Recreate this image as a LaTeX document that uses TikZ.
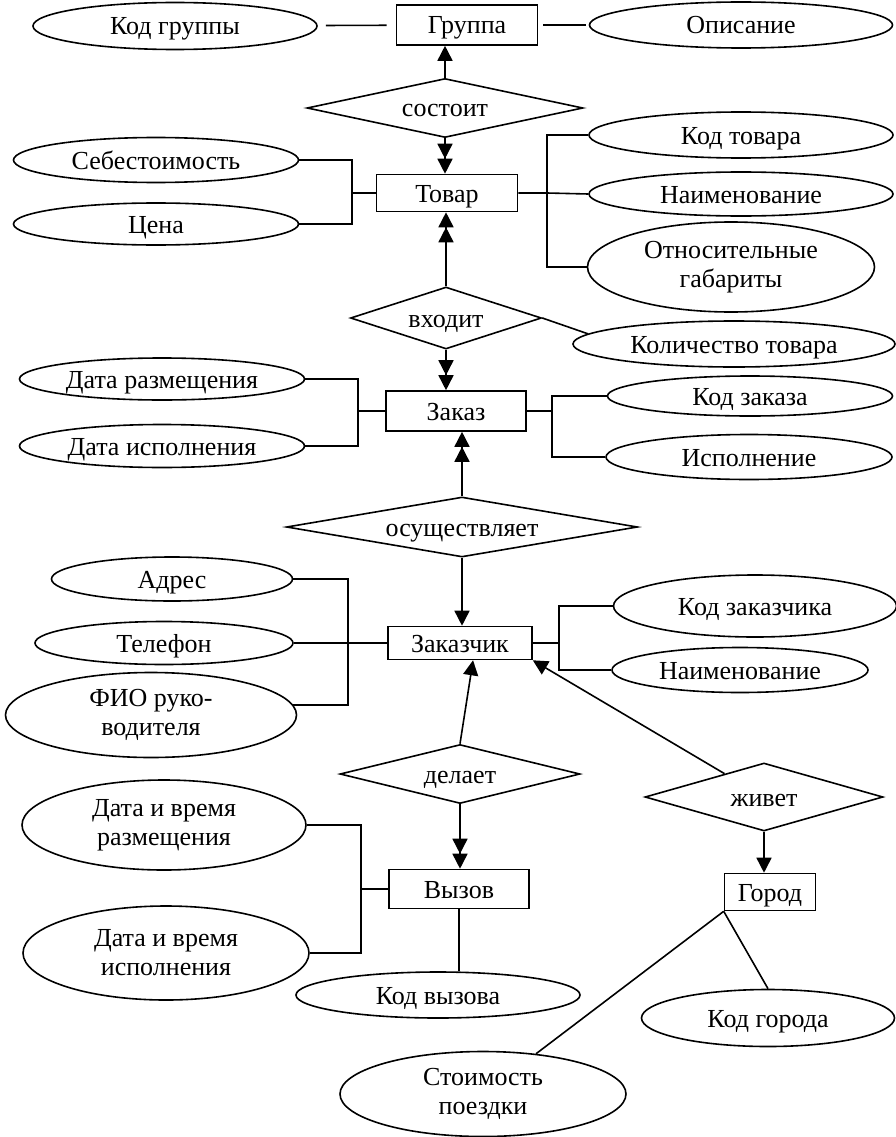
\documentclass[tikz,border=0pt]{standalone}
\usepackage{fontspec}
\setmainfont{Liberation Serif}
\usetikzlibrary{shapes.geometric,arrows.meta}
\begin{document}
\begin{tikzpicture}[x=1pt,y=-1pt,line width=1.6pt,
	every node/.style={font=\fontsize{26}{29}\selectfont,inner sep=0pt,align=center},
	wh/.style 2 args={minimum width=#1pt,minimum height=#2pt},
	sl/.style={text height=20pt,text depth=2pt},
	ent/.style={draw,rectangle,sl},
	attr/.style={draw,ellipse,sl},
	attrii/.style={draw,ellipse},
	rel/.style={draw,diamond,aspect=5,sl},
	one/.style={-{Triangle[length=15pt,width=15pt]}},
	two/.style={-{Triangle[length=15pt,width=15pt]Triangle[length=15pt,width=15pt]}}]
	\useasboundingbox (0,0) rectangle (896,1137);
	% Gruppe und Ware
	\node[ent,wh={141}{40}] (gruppa) at (467,25) {Группа};
	\node[attr,wh={284}{47}] (kodgr) at (175,26) {Код группы};
	\node[attr,wh={303}{46}] (opis) at (741,25) {Описание};
	\node[rel,wh={276}{59}] (sostoit) at (445,108) {состоит};
	\node[ent,wh={141}{37}] (tovar) at (447,193) {Товар};
	\node[attr,wh={285}{45}] (sebest) at (156,160) {Себестоимость};
	\node[attr,wh={285}{42}] (cena) at (156,224) {Цена};
	\node[attr,wh={304}{46}] (kodtov) at (741,135) {Код товара};
	\node[attr,wh={304}{44}] (naimtov) at (741,194) {Наименование};
	\node[attrii,wh={287}{90}] (gabar) at (731,267) {Относительные\\габариты};
	\node[rel,wh={191}{62}] (vhodit) at (446,318) {входит};
	\node[attr,wh={322}{46}] (kolvo) at (734,344) {Количество товара};
	% Auftrag
	\node[ent,wh={140}{40}] (zakaz) at (456,411) {Заказ};
	\node[attr,wh={285}{42}] (datarazm) at (162,379) {Дата размещения};
	\node[attr,wh={285}{43}] (dataisp) at (162,446) {Дата исполнения};
	\node[attr,wh={285}{40}] (kodzak) at (750,396) {Код заказа};
	\node[attr,wh={286}{45}] (ispoln) at (749,457) {Исполнение};
	\node[rel,wh={351}{60}] (osush) at (462,527) {осуществляет};
	% Kunde
	\node[ent,wh={144}{33}] (zakazchik) at (460,643) {Заказчик};
	\node[attr,wh={241}{44}] (adres) at (172,579) {Адрес};
	\node[attr,wh={258}{43}] (telefon) at (164,643) {Телефон};
	\node[attrii,wh={291}{85}] (fio) at (151,715) {ФИО руко-\\водителя};
	\node[attr,wh={283}{62}] (kodzch) at (755,606) {Код заказчика};
	\node[attr,wh={256}{45}] (naimzch) at (740,670) {Наименование};
	\node[rel,wh={240}{59}] (delaet) at (460,774) {делает};
	\node[rel,wh={238}{68}] (zhivet) at (764,797) {живет};
	% Anruf und Stadt
	\node[ent,wh={140}{39}] (vyzov) at (459,889) {Вызов};
	\node[ent,wh={91}{37}] (gorod) at (770,892) {Город};
	\node[attrii,wh={284}{90}] (dtrazm) at (164,825) {Дата и время\\размещения};
	\node[attrii,wh={286}{94}] (dtisp) at (166,953) {Дата и время\\исполнения};
	\node[attr,wh={284}{46}] (kodvyz) at (438,995) {Код вызова};
	\node[attr,wh={253}{57}] (kodgor) at (768,1018) {Код города};
	\node[attrii,wh={286}{85}] (stoim) at (483,1094) {Стоимость\\поездки};
	% Klammern
	\draw[shorten <=8pt,shorten >=9pt] (kodgr) -- (gruppa);
	\draw[shorten <=5pt,shorten >=3pt] (gruppa) -- (opis);
	\coordinate (tl) at (352,193);
	\draw (sebest.east) -| (tl) |- (cena.east);
	\draw (tl) -- (tovar.west);
	\coordinate (tr) at (547,193);
	\draw (kodtov.west) -| (tr) |- (gabar.west);
	\draw (tovar.east) -- (tr) -- (naimtov.west);
	\coordinate (zl) at (358,411);
	\draw (datarazm.east) -| (zl) |- (dataisp.east);
	\draw (zl) -- (zakaz.west);
	\coordinate (zr) at (552,411);
	\draw (kodzak.west) -| (zr) |- (ispoln.west);
	\draw (zakaz.east) -- (zr);
	\coordinate (kl) at (348,643);
	\draw (adres.east) -| (kl) |- (fio.4);
	\draw (telefon.east) -- (zakazchik.west);
	\coordinate (kr) at (559,643);
	\draw (kodzch.west) -| (kr) |- (naimzch.west);
	\draw (zakazchik.east) -- (kr);
	\coordinate (vl) at (361,889);
	\draw (dtrazm.east) -| (vl) |- (dtisp.east);
	\draw (vl) -- (vyzov.west);
	\draw (vyzov.south) -- (vyzov.south |- kodvyz.north);
	\draw (gorod.south west) -- (stoim);
	\draw (gorod.south west) -- (kodgor.north);
	%Pfeile
	\draw[one] (sostoit.north) -- (sostoit.north |- gruppa.south);
	\draw[two] (sostoit.south) -- (sostoit.south |- tovar.north);
	\draw[two] (vhodit.north) -- (vhodit.north |- tovar.south);
	\draw[two] (vhodit.south) -- (vhodit.south |- zakaz.north);
	\draw (vhodit.east) -- (kolvo.176);
	\draw[two] (osush.north) -- (osush.north |- zakaz.south);
	\draw[one] (osush.south) -- (osush.south |- zakazchik.north);
	\draw[one] (delaet.north) -- (zakazchik.-53);
	\draw[two] (delaet.south) -- (delaet.south |- vyzov.north);
	\draw[one] (zhivet) -- (zakazchik.south east);
	\draw[one] (zhivet.south) -- (zhivet.south |- gorod.north);
\end{tikzpicture}
\end{document}
